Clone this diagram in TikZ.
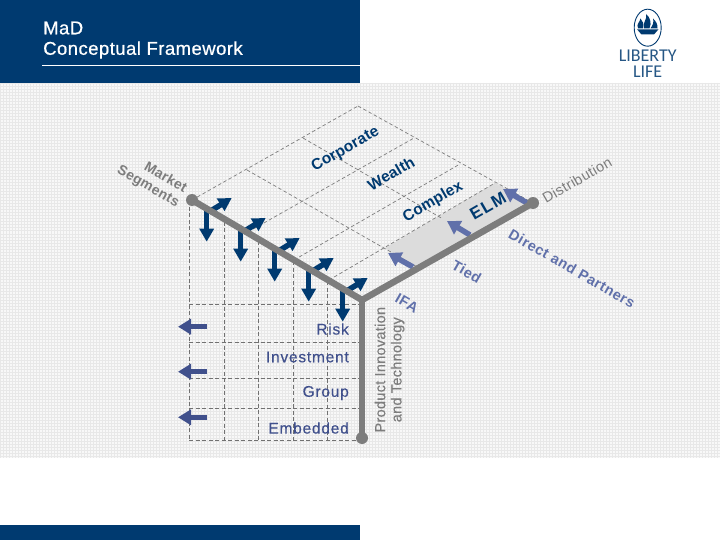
\documentclass[tikz,border=0pt]{standalone}
\usepackage{fontspec}
\usepackage{xcolor}
\usetikzlibrary{arrows.meta}
\setmainfont{Liberation Sans}
\newfontfamily\logofont{Carlito}
\definecolor{marino}{RGB}{0,58,112}
\definecolor{pizarra}{RGB}{64,80,140}
\definecolor{lavanda}{RGB}{96,112,170}
\definecolor{gris}{RGB}{125,125,125}
\definecolor{trama}{RGB}{248,248,248}
\definecolor{malla}{RGB}{232,232,232}
\definecolor{sombra}{RGB}{220,220,220}
\newcommand{\tam}[2]{\fontsize{#1}{#1}\selectfont\addfontfeatures{LetterSpace=#2}}
\newcommand{\gordo}[3]{\fontsize{#1}{#1}\selectfont\addfontfeatures{LetterSpace=#2,FakeBold=#3}}

\begin{document}
\begin{tikzpicture}[x=1pt,y=-1pt,
		eje/.style={gris,line width=6.5pt},
		punto/.style={fill=gris},
		plano/.style={dash pattern=on 4pt off 2.5pt,draw=gris!90!black,line width=.9pt},
		techo/.style={dash pattern=on 3.5pt off 2.5pt,draw=gris,line width=.7pt},
		flechaosc/.style={marino,line width=5.5pt,-{Triangle[width=14pt,length=13pt]}},
		flechaizq/.style={pizarra,line width=5.5pt,-{Triangle[width=15pt,length=13pt]}},
		flechadis/.style={lavanda,line width=5.5pt,-{Triangle[width=15pt,length=13pt]}},
		canal/.style={rotate=30,text=marino,font=\bfseries\tam{15.5}{1}},
		segmento/.style={rotate=-30,text=gris,font=\bfseries\tam{14}{2}},
		socio/.style={rotate=-30,text=lavanda,font=\bfseries\tam{14.5}{4}},
		producto/.style={anchor=east,inner sep=0pt,text=pizarra,font=\gordo{15.5}{5}{.4}},
		vertical/.style={rotate=90,text=gris,font=\gordo{14.5}{2}{.3}}]
	\useasboundingbox (0,0) rectangle (720,540);
	\fill[white] (0,0) rectangle (720,540);
	\fill[trama] (0,83) rectangle (720,458);
	\foreach \x in {0,3,...,720} \draw[malla,line width=1pt] (\x,83) -- (\x,458);
	\foreach \y in {84,87,...,458} \draw[malla,line width=1pt] (0,\y) -- (720,\y);
	\fill[marino] (0,0) rectangle (360,83);
	\fill[marino] (0,525) rectangle (360,540);
	\draw[white,line width=.8pt] (42,65.7) -- (360,65.7);
	\node[anchor=west,inner sep=0pt,text=white,font=\gordo{18.5}{2.5}{.7}] (titulo) at (43,28) {MaD};
	\node[anchor=west,inner sep=0pt,text=white,font=\gordo{18.5}{2.5}{.7}] (subtitulo) at (43,50) {Conceptual Framework};

	\draw[marino,line width=.9pt] (647.7,27.7) ellipse (13.5pt and 18.5pt);
	\fill[marino] (637,29.3) -- (658.5,29.3) -- (654,34.5) -- (641.5,34.5) -- cycle;
	\fill[marino] (638,28.3) .. controls (636,24) and (640,22) .. (640.5,18.5) .. controls (643,21) and (644,24) .. (643,28.3) -- cycle;
	\fill[marino] (644,28.3) .. controls (642,22) and (648,19) .. (646,14) .. controls (650,17) and (652,23) .. (649.5,28.3) -- cycle;
	\fill[marino] (650.5,28.3) .. controls (653,25) and (654,22) .. (653,18.5) .. controls (656,21) and (658,25) .. (657.5,28.3) -- cycle;
	\node[inner sep=0pt,text=marino!85,font=\logofont\fontsize{18}{18}\selectfont] (liberty) at (647.7,56) {LIBERTY};
	\node[inner sep=0pt,text=marino!85,font=\logofont\fontsize{18}{18}\selectfont] (life) at (647.7,71.7) {LIFE};

	\coordinate (m0) at (192,200);
	\coordinate (m1) at (248,232);
	\coordinate (m2) at (294,260);
	\coordinate (m3) at (329,280);
	\coordinate (junta) at (362,300);
	\coordinate (fondo) at (362,438);
	\coordinate (b0) at (358,106);
	\coordinate (b1) at (414,138);
	\coordinate (b2) at (460,164);
	\coordinate (b3) at (495,183);
	\coordinate (b4) at (533,203);
	\coordinate (c1) at (303,138);
	\coordinate (d1) at (443,219);
	\coordinate (c2) at (247,170);
	\coordinate (d2) at (419,268);
	\coordinate (d3) at (385,248);

	\fill[sombra] (d2) -- (b4) -- (b3) -- (d3) -- cycle;
	\foreach \i in {0,1,2,3} \draw[techo] (m\i) -- (b\i);
	\draw[techo] (b0) -- (b4);
	\draw[techo] (c1) -- (d1);
	\draw[techo] (c2) -- (d2);

	\foreach \x/\y in {189/207,224/222,258/241,293/261,327/281} \draw[plano] (\x,\y) -- (\x,440);
	\foreach \y in {304,342,378,408,440} \draw[plano] (189,\y) -- (362,\y);

	\foreach \i in {0,1,2,3,4} {
		\draw[flechaosc] (206.7+34*\i,209+20*\i) -- (206.7+34*\i,241.7+20*\i);
		\draw[flechaosc] (209+34*\i,212+20*\i) -- (231.7+34*\i,198+20*\i);
	}
	\foreach \y in {326.7,371.7,417.3} \draw[flechaizq] (207,\y) -- (178,\y);
	\draw[flechadis] (413,267) -- (388,253);
	\draw[flechadis] (470,235) -- (447,221);
	\draw[flechadis] (527,203) -- (503,189);

	\draw[eje] (m0) -- (junta);
	\draw[eje] (junta) -- (b4);
	\draw[eje] (junta) -- (fondo);
	\fill[punto] (m0) circle (6pt);
	\fill[punto] (b4) circle (6pt);
	\fill[punto] (fondo) circle (6pt);
	\fill[punto] (junta) circle (3.2pt);

	\node[canal] (corporate) at (345.5,149.5) {Corporate};
	\node[canal] (wealth) at (391,173.5) {Wealth};
	\node[canal] (complex) at (433,202) {Complex};
	\node[canal,font=\bfseries\tam{17}{8}] (elm) at (488,206) {ELM};
	\node[rotate=30,text=gris,font=\tam{14.5}{3}] (distribution) at (577,180) {Distribution};
	\node[segmento] (market) at (166,176.5) {Market};
	\node[segmento] (segments) at (148,187) {Segments};
	\node[socio] (direct) at (572,268.5) {Direct and Partners};
	\node[socio] (tied) at (466.7,271.7) {Tied};
	\node[socio] (ifa) at (407,303) {IFA};
	\node[producto] (risk) at (349,329) {Risk};
	\node[producto] (investment) at (349,357) {Investment};
	\node[producto] (group) at (349,393) {Group};
	\node[producto] (embedded) at (349,428) {Embedded};
	\node[vertical] (innovation) at (380,369.7) {Product Innovation};
	\node[vertical] (technology) at (397.7,369.7) {and Technology};
\end{tikzpicture}
\end{document}
